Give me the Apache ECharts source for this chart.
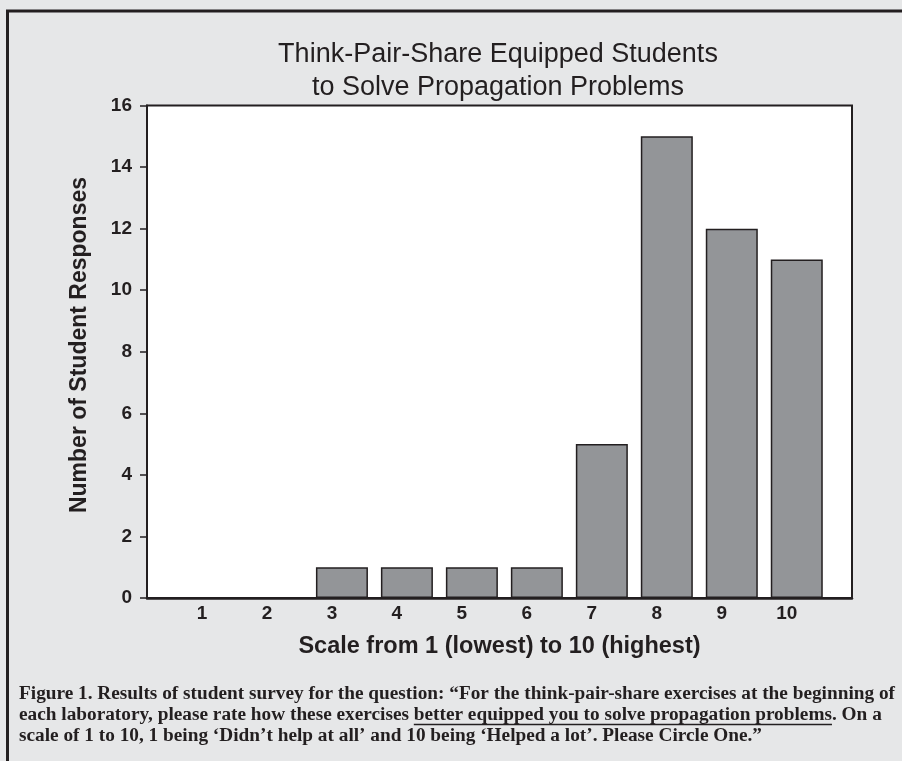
<!DOCTYPE html>
<html>
<head>
<meta charset="utf-8">
<script src="https://cdn.jsdelivr.net/npm/echarts@6/dist/echarts.min.js"></script>
<style>
  html, body { margin: 0; padding: 0; background: #e6e7e8; }
  #main { width: 902px; height: 761px; }
</style>
</head>
<body>
<div id="main"></div>
<script>
// data
var scaleValues = [1, 2, 3, 4, 5, 6, 7, 8, 9, 10];
var responseCounts = [0, 0, 1, 1, 1, 1, 5, 15, 12, 11];
var yTicks = [0, 2, 4, 6, 8, 10, 12, 14, 16];

var titleText = 'Think-Pair-Share Equipped Students\nto Solve Propagation Problems';
var xName = 'Scale from 1 (lowest) to 10 (highest)';
var yName = 'Number of Student Responses';
var captionLines = [
  'Figure 1. Results of student survey for the question: \u201cFor the think-pair-share exercises at the beginning of',
  'each laboratory, please rate how these exercises better equipped you to solve propagation problems. On a',
  'scale of 1 to 10, 1 being \u2018Didn\u2019t help at all\u2019 and 10 being \u2018Helped a lot\u2019. Please Circle One.\u201d'
];
var underlinedPart = 'better equipped you to solve propagation problems';

var ink = '#231f20';
var sans = '"Liberation Sans", Arial, sans-serif';
var serif = '"Liberation Serif", "Times New Roman", serif';
var captionFont = 'bold 19.3px ' + serif;

// where the underline goes under the second caption line
var ctx = document.createElement('canvas').getContext('2d');
ctx.font = captionFont;
var line2 = captionLines[1];
var ulStart = line2.indexOf(underlinedPart);
var ulX0 = 19 + ctx.measureText(line2.slice(0, ulStart)).width;
var ulX1 = ulX0 + ctx.measureText(underlinedPart).width;

var myChart = echarts.init(document.getElementById('main'));

myChart.setOption({
  backgroundColor: '#e6e7e8',
  animation: false,
  title: {
    text: titleText,
    left: 493,
    top: 33,
    textAlign: 'center',
    textStyle: {
      color: ink,
      fontFamily: sans,
      fontWeight: 'normal',
      fontSize: 27,
      lineHeight: 33
    }
  },
  grid: {
    left: 147,
    right: 50,
    top: 105.5,
    bottom: 163,
    show: true,
    backgroundColor: '#fff',
    borderColor: ink,
    borderWidth: 2
  },
  xAxis: {
    type: 'value',
    min: 0,
    max: 10.85,
    interval: 1,
    name: xName,
    nameLocation: 'middle',
    nameGap: 37,
    nameTextStyle: {
      color: ink,
      fontFamily: sans,
      fontWeight: 'bold',
      fontSize: 23.5
    },
    axisLine: { lineStyle: { color: ink, width: 2.5 } },
    axisTick: { show: false },
    splitLine: { show: false },
    axisLabel: {
      color: ink,
      fontFamily: sans,
      fontWeight: 'bold',
      fontSize: 19,
      margin: 6,
      padding: [0, 20, 0, 0],
      showMaxLabel: false,
      formatter: function (v) {
        return scaleValues.indexOf(v) >= 0 ? String(v) : '';
      }
    }
  },
  yAxis: {
    type: 'value',
    min: yTicks[0],
    max: yTicks[yTicks.length - 1],
    interval: yTicks[1] - yTicks[0],
    axisLine: { show: true, lineStyle: { color: ink, width: 2 } },
    axisTick: { show: true, inside: false, length: 7, lineStyle: { color: ink, width: 1.5 } },
    splitLine: { show: false },
    axisLabel: {
      color: ink,
      fontFamily: sans,
      fontWeight: 'bold',
      fontSize: 19,
      margin: 15
    }
  },
  series: [{
    type: 'bar',
    barWidth: 52,
    data: scaleValues.map(function (s, i) { return [s, responseCounts[i]]; }),
    itemStyle: {
      color: '#939598',
      borderColor: ink,
      borderWidth: 1.5
    }
  }],
  graphic: [
    {
      type: 'rect',
      silent: true,
      z: 100,
      shape: { x: 7.5, y: 11, width: 1000, height: 1000 },
      style: { fill: 'none', stroke: ink, lineWidth: 3 }
    },
    {
      type: 'text',
      x: 80,
      y: 345,
      rotation: Math.PI / 2,
      style: {
        text: yName,
        fill: ink,
        font: 'bold 23px ' + sans,
        align: 'center',
        verticalAlign: 'middle'
      }
    },
    {
      type: 'text',
      x: 19,
      y: 684,
      style: {
        text: captionLines.join('\n'),
        fill: ink,
        font: captionFont,
        lineHeight: 21,
        align: 'left',
        verticalAlign: 'top'
      }
    },
    {
      type: 'line',
      shape: { x1: ulX0, y1: 724.5, x2: ulX1, y2: 724.5 },
      style: { stroke: ink, lineWidth: 1.5 }
    }
  ]
});
</script>
</body>
</html>
